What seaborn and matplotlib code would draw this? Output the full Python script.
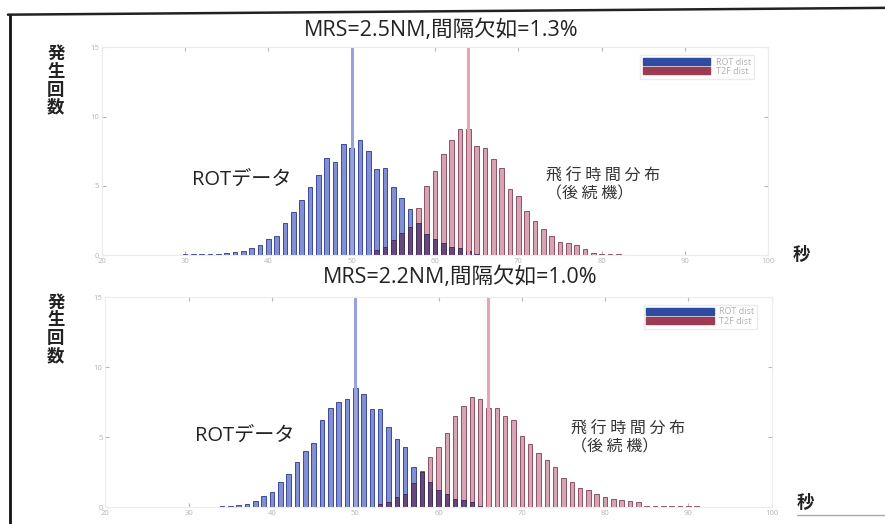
import numpy as np
import pandas as pd
import seaborn as sns
import matplotlib.pyplot as plt
from matplotlib.lines import Line2D
from matplotlib.patches import Patch

sns.set_style("white")
plt.rcParams['font.family'] = ['Open Sans', 'Noto Sans CJK JP', 'DejaVu Sans']

## Data (seconds -> count)
# Top panel: MRS=2.5NM
rot_sec_top = list(range(30, 66))
rot_cnt_top = [0.05, 0.05, 0.05, 0.1, 0.1, 0.15, 0.2, 0.3, 0.5, 0.7,
               1.2, 1.4, 2.3, 3.1, 4.0, 4.9, 5.8, 7.0, 6.7, 8.0,
               7.7, 8.3, 7.5, 6.2, 6.3, 4.9, 4.1, 3.3, 2.3, 1.5,
               1.2, 0.85, 0.6, 0.5, 0.3, 0.1]
t2f_sec_top = list(range(53, 83))
t2f_cnt_top = [0.36, 0.6, 1.07, 1.6, 2.0, 3.4, 5.0, 6.1, 7.3, 8.3,
               9.1, 9.1, 7.9, 7.7, 6.9, 6.3, 4.8, 4.3, 3.2, 2.5,
               1.9, 1.4, 0.95, 0.85, 0.7, 0.45, 0.15, 0.1, 0.1, 0.05]

# Bottom panel: MRS=2.2NM
rot_sec_bot = list(range(33, 66))
rot_cnt_bot = [0.05, 0.1, 0.1, 0.15, 0.2, 0.48, 0.83, 1.07, 1.8, 2.4,
               3.2, 4.0, 4.6, 6.2, 7.1, 7.5, 7.7, 8.5, 8.1, 7.0,
               7.0, 5.7, 4.9, 4.3, 2.9, 2.5, 1.8, 1.2, 0.95, 0.6,
               0.5, 0.4, 0.1]
t2f_sec_bot = list(range(53, 92))
t2f_cnt_bot = [0.2, 0.36, 0.7, 0.95, 1.7, 2.6, 3.6, 4.3, 5.3, 6.5,
               7.2, 7.9, 7.7, 7.1, 7.1, 6.5, 6.2, 5.1, 4.5, 3.9,
               3.4, 2.9, 2.1, 1.8, 1.4, 1.2, 0.95, 0.7, 0.6, 0.5,
               0.45, 0.35, 0.1, 0.1, 0.1, 0.1, 0.1, 0.1, 0.1]

titles = ["MRS=2.5NM,間隔欠如=1.3%", "MRS=2.2NM,間隔欠如=1.0%"]
rot_mean = [50, 50]
t2f_mean = [64, 66]

panels = [
    dict(rot=(rot_sec_top, rot_cnt_top), t2f=(t2f_sec_top, t2f_cnt_top),
         rect=[0.115, 0.513, 0.753, 0.397], title_xy=(0.498, 0.942),
         rot_txt=(36.8, 5.4), t2f_txt=(73.3, 5.05), ylab_y=0.915, sec_xy=(0.905, 0.513)),
    dict(rot=(rot_sec_bot, rot_cnt_bot), t2f=(t2f_sec_bot, t2f_cnt_bot),
         rect=[0.119, 0.032, 0.753, 0.401], title_xy=(0.52, 0.47),
         rot_txt=(36.7, 5.1), t2f_txt=(75.9, 4.95), ylab_y=0.44, sec_xy=(0.91, 0.04)),
]

blue = '#7483cf'
red = '#d29aaa'
purple = '#5d3f78'

fig = plt.figure(figsize=(8.85, 5.24), dpi=100)

for i, p in enumerate(panels):
    ax = fig.add_axes(p['rect'])
    rot_df = pd.DataFrame({'sec': p['rot'][0], 'cnt': p['rot'][1]})
    t2f_df = pd.DataFrame({'sec': p['t2f'][0], 'cnt': p['t2f'][1]})
    # overlapping part of the two distributions, shown darker
    both = rot_df.merge(t2f_df, on='sec', suffixes=('_rot', '_t2f'))
    both['cnt'] = both[['cnt_rot', 'cnt_t2f']].min(axis=1)

    sns.histplot(data=rot_df, x='sec', weights='cnt', discrete=True, shrink=0.55,
                 color=blue, alpha=0.9, edgecolor='#3c4a9c', linewidth=0.7, ax=ax)
    sns.histplot(data=t2f_df, x='sec', weights='cnt', discrete=True, shrink=0.55,
                 color=red, alpha=0.9, edgecolor='#8f5264', linewidth=0.7, ax=ax)
    sns.histplot(data=both, x='sec', weights='cnt', discrete=True, shrink=0.55,
                 color=purple, alpha=0.9, edgecolor='#45305c', linewidth=0.7, ax=ax)
    ax.axvline(rot_mean[i], color='#9aa2dc', lw=2.2)
    ax.axvline(t2f_mean[i], color='#e9a4b4', lw=2.2)

    ax.set_xlim(20, 100)
    ax.set_ylim(0, 15)
    ax.set_xticks(range(20, 101, 10))
    ax.set_yticks([0, 5, 10, 15])
    ax.set_xlabel('')
    ax.set_ylabel('')
    ax.tick_params(labelsize=5.5, colors='#b5b5b5', direction='in', length=3,
                   top=True, right=True, bottom=True, left=True, pad=2)
    for s in ax.spines.values():
        s.set_color('#ececec')
        s.set_linewidth(0.8)

    handles = [Patch(color='#2f4ca3', label='ROT dist'),
               Patch(color='#9d3b52', label='T2F dist')]
    leg = ax.legend(handles=handles, loc='upper right', bbox_to_anchor=(0.985, 0.985),
                    fontsize=6.5, handlelength=7.5, handleheight=0.8, labelspacing=0.05,
                    borderpad=0.3, handletextpad=0.6, frameon=True, fancybox=False)
    leg.get_frame().set_edgecolor('#e6e6e6')
    for t in leg.get_texts():
        t.set_color('#b0b0b0')

    ax.text(p['rot_txt'][0], p['rot_txt'][1], 'ROTデータ', fontsize=14.5,
            ha='center', va='center', color='#222222')
    ax.text(p['t2f_txt'][0], p['t2f_txt'][1], '飛 行 時 間 分 布\n（後 続 機）', fontsize=11.5,
            ha='left', va='center', color='#333333', linespacing=1.05,
            family=['Noto Sans CJK JP'])

    fig.text(p['title_xy'][0], p['title_xy'][1], titles[i], fontsize=15.5,
             ha='center', va='center', color='#222222')
    fig.text(0.063, p['ylab_y'], '発\n生\n回\n数', fontsize=12.5, fontweight='bold',
             ha='center', va='top', linespacing=1.0, color='#222222',
             family=['Noto Sans CJK JP'])
    fig.text(p['sec_xy'][0], p['sec_xy'][1], '秒', fontsize=12.5, fontweight='bold',
             ha='center', va='center', color='#222222', family=['Noto Sans CJK JP'])

# scanned page frame
fig.add_artist(Line2D([0.011, 0.011], [0.0, 0.972], color='#111111', lw=2, transform=fig.transFigure))
fig.add_artist(Line2D([0.009, 1.0], [0.972, 0.985], color='#222222', lw=1.8, transform=fig.transFigure))
fig.add_artist(Line2D([0.9, 1.0], [0.018, 0.018], color='#aaaaaa', lw=1, transform=fig.transFigure))

fig.savefig('out.png', dpi=100)
